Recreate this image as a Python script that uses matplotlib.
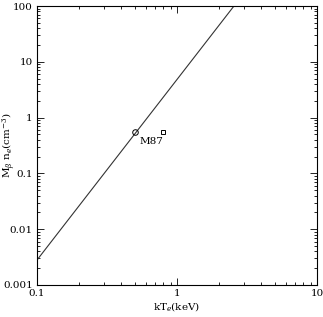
import numpy as np
import matplotlib.pyplot as plt
from matplotlib.ticker import LogLocator, FixedFormatter, FixedLocator, NullFormatter

# relation line (end points)
line_kT = [0.1, 2.55]
line_M = [0.0028, 100]

# M87 points
circle_kT = [0.5]
circle_M = [0.55]
square_kT = [0.8]
square_M = [0.55]

xticks = [0.1, 1, 10]
xtick_labels = ['0.1', '1', '10']
yticks = [0.001, 0.01, 0.1, 1, 10, 100]
ytick_labels = ['0.001', '0.01', '0.1', '1', '10', '100']

plt.rcParams['font.family'] = 'DejaVu Serif'
plt.rcParams['mathtext.fontset'] = 'dejavuserif'

fig = plt.figure(figsize=(3.23, 3.17), dpi=100)
ax = fig.add_axes([0.1146, 0.101, 0.867, 0.880])

ax.plot(line_kT, line_M, color='#333333', lw=0.8)
ax.plot(circle_kT, circle_M, 'o', mfc='none', mec='black', ms=4, mew=0.7)
ax.plot(square_kT, square_M, 's', mfc='none', mec='black', ms=3.2, mew=0.7)
ax.text(0.54, 0.37, 'M87', fontsize=7.5, ha='left', va='center')

ax.set_xscale('log')
ax.set_yscale('log')
ax.set_xlim(0.1, 10)
ax.set_ylim(0.001, 100)

ax.xaxis.set_major_locator(FixedLocator(xticks))
ax.xaxis.set_major_formatter(FixedFormatter(xtick_labels))
ax.yaxis.set_major_locator(FixedLocator(yticks))
ax.yaxis.set_major_formatter(FixedFormatter(ytick_labels))
ax.xaxis.set_minor_locator(LogLocator(base=10, subs=np.arange(2, 10)))
ax.yaxis.set_minor_locator(LogLocator(base=10, subs=np.arange(2, 10)))
ax.xaxis.set_minor_formatter(NullFormatter())
ax.yaxis.set_minor_formatter(NullFormatter())

ax.tick_params(which='both', direction='in', top=True, right=True, labelsize=7.5, width=0.6)
ax.tick_params(which='major', length=5, pad=3)
ax.tick_params(which='minor', length=2.5)
for s in ax.spines.values():
    s.set_linewidth(0.8)

ax.set_xlabel(r'kT$_e$(keV)', fontsize=7.5, labelpad=1)
ax.set_ylabel(r'M$_\beta$ n$_e$(cm$^{-3}$)', fontsize=7.5, va='center')
ax.yaxis.set_label_coords(-0.1, 0.5)

fig.savefig('out.png', dpi=100)
